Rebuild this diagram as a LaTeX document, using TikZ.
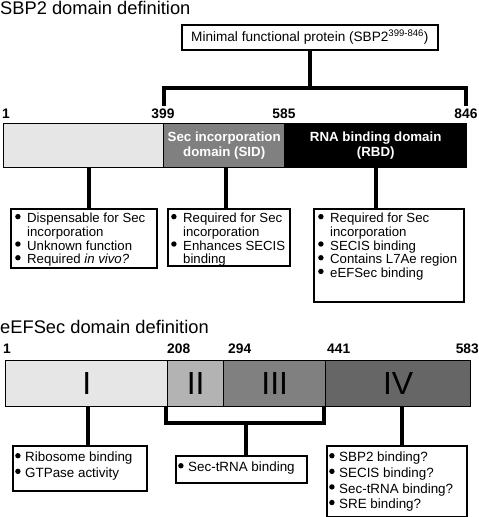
\documentclass[tikz,border=0pt]{standalone}
\usepackage{fontspec}
\setmainfont{Liberation Sans}
\usetikzlibrary{calc}
\definecolor{g1}{HTML}{E6E6E6}
\definecolor{g2}{HTML}{B3B3B3}
\definecolor{g3}{HTML}{808080}
\definecolor{g4}{HTML}{666666}
\newcommand\bul{\makebox[12pt][l]{\raisebox{0.26em}{\tikz\fill (0,0) circle (2.7pt);}}}
\newcommand\ind{\hspace*{12pt}}
\newcommand\bulb{\makebox[10pt][l]{\raisebox{0.26em}{\tikz\fill (0,0) circle (2.7pt);}}}
\begin{document}
\begin{tikzpicture}[x=1pt,y=-1pt,
  title/.style={anchor=base west,inner sep=0pt,font=\fontsize{18.3}{20}\selectfont},
  num/.style={inner sep=0pt,font=\fontsize{13.8}{14}\selectfont\bfseries},
  seg/.style={draw=black,line width=1.4pt,inner sep=0pt,anchor=north west},
  infobox/.style={draw=black,line width=1.6pt,anchor=north west,inner sep=0pt},
  boxtext/.style={anchor=north west,inner sep=0pt,align=left,font=\fontsize{13.2}{13.7}\selectfont},
  boxtextb/.style={anchor=north west,inner sep=0pt,align=left,font=\fontsize{13.4}{15.6}\selectfont},
  stem/.style={line width=4.5pt},
  inbar/.style={text=white,align=center,font=\fontsize{13.3}{15}\selectfont\bfseries},
  roman/.style={font=\fontsize{32}{34}\selectfont}]
\useasboundingbox (0,0) rectangle (479,517);
% ---------------- SBP2 ----------------
\node[title] (t1) at (0,14) {SBP2 domain definition};
\node[draw=black,line width=1.6pt,anchor=north west,minimum width=256pt,minimum height=25pt,inner sep=0pt,font=\fontsize{13.6}{14}\selectfont] (min) at (181,24) {Minimal functional protein (SBP2\textsuperscript{399-846})};
\coordinate (brl) at (164,106);
\coordinate (brr) at (466,106);
\draw[stem] (min.south) -- (min.south |- 0,88);
\draw[stem,line join=miter] (brl) -- (164,88) -- (466,88) -- (brr);
\node[num,anchor=base west] (n1) at (2,118) {1};
\node[num,anchor=base] (n399) at (163,118) {399};
\node[num,anchor=base] (n585) at (284,118) {585};
\node[num,anchor=base] (n846) at (466,118) {846};
\node[seg,fill=g1,minimum width=160pt,minimum height=44pt] (s1) at (3,123) {};
\node[seg,fill=g3,minimum width=121pt,minimum height=44pt] (s2) at (163,123) {};
\node[seg,fill=black,minimum width=182pt,minimum height=44pt] (s3) at (284,123) {};
\node[inbar] (s2t) at (s2.center) {Sec incorporation\\domain (SID)};
\node[inbar] (s3t) at (s3.center) {RNA binding domain\\(RBD)};
\node[infobox,minimum width=146pt,minimum height=59pt] (b1) at (10,208) {};
\node[infobox,minimum width=122pt,minimum height=57pt] (b2) at (167,208) {};
\node[infobox,minimum width=150pt,minimum height=93pt] (b3) at (313,208) {};
\node[boxtext] (b1t) at ($(b1.north west)+(5,5)$) {\bul Dispensable for Sec\\\ind incorporation\\\bul Unknown function\\\bul Required \textit{in vivo?}};
\node[boxtext] (b2t) at ($(b2.north west)+(4,5)$) {\bul Required for Sec\\\ind incorporation\\\bul Enhances SECIS\\\ind binding};
\node[boxtext] (b3t) at ($(b3.north west)+(5,5)$) {\bul Required for Sec\\\ind incorporation\\\bul SECIS binding\\\bul Contains L7Ae region\\\bul eEFSec binding};
\draw[stem] (89,167) -- (b1.north -| 89,0);
\draw[stem] (226,167) -- (b2.north -| 226,0);
\draw[stem] (376,167) -- (b3.north -| 376,0);
% ---------------- eEFSec ----------------
\node[title] (t2) at (0,333) {eEFSec domain definition};
\node[num,anchor=base west] (m1) at (3,353) {1};
\node[num,anchor=base west] (m208) at (167,353) {208};
\node[num,anchor=base west] (m294) at (228,353) {294};
\node[num,anchor=base west] (m441) at (327,353) {441};
\node[num,anchor=base east] (m583) at (479,353) {583};
\node[seg,fill=g1,minimum width=162pt,minimum height=46pt] (e1) at (5,360) {};
\node[seg,fill=g2,minimum width=56pt,minimum height=46pt] (e2) at (167,360) {};
\node[seg,fill=g3,minimum width=102pt,minimum height=46pt] (e3) at (223,360) {};
\node[seg,fill=g4,minimum width=145pt,minimum height=46pt] (e4) at (325,360) {};
\node[roman] at (e1.center) {I};
\node[roman] at (e2.center) {II};
\node[roman] at (e3.center) {III};
\node[roman] at (e4.center) {IV};
\node[infobox,minimum width=134pt,minimum height=45pt] (f1) at (12,445) {};
\node[infobox,minimum width=131pt,minimum height=27pt] (f2) at (175,455) {};
\node[infobox,minimum width=140pt,minimum height=71pt] (f3) at (326,445) {};
\node[boxtextb] (f1t) at ($(f1.north west)+(3,7)$) {\bulb Ribosome binding\\\bulb GTPase activity};
\node[boxtextb] (f2t) at ($(f2.north west)+(3,7)$) {\bulb Sec-tRNA binding};
\node[boxtextb] (f3t) at ($(f3.north west)+(3,7)$) {\bulb SBP2 binding?\\\bulb SECIS binding?\\\bulb Sec-tRNA binding?\\\bulb SRE binding?};
\draw[stem] (88,406) -- (f1.north -| 88,0);
\draw[stem,line join=miter] (166,406) -- (166,423) -- (324,423) -- (324,406);
\draw[stem] (246,423) -- (f2.north -| 246,0);
\draw[stem] (402,406) -- (f3.north -| 402,0);
\end{tikzpicture}
\end{document}
